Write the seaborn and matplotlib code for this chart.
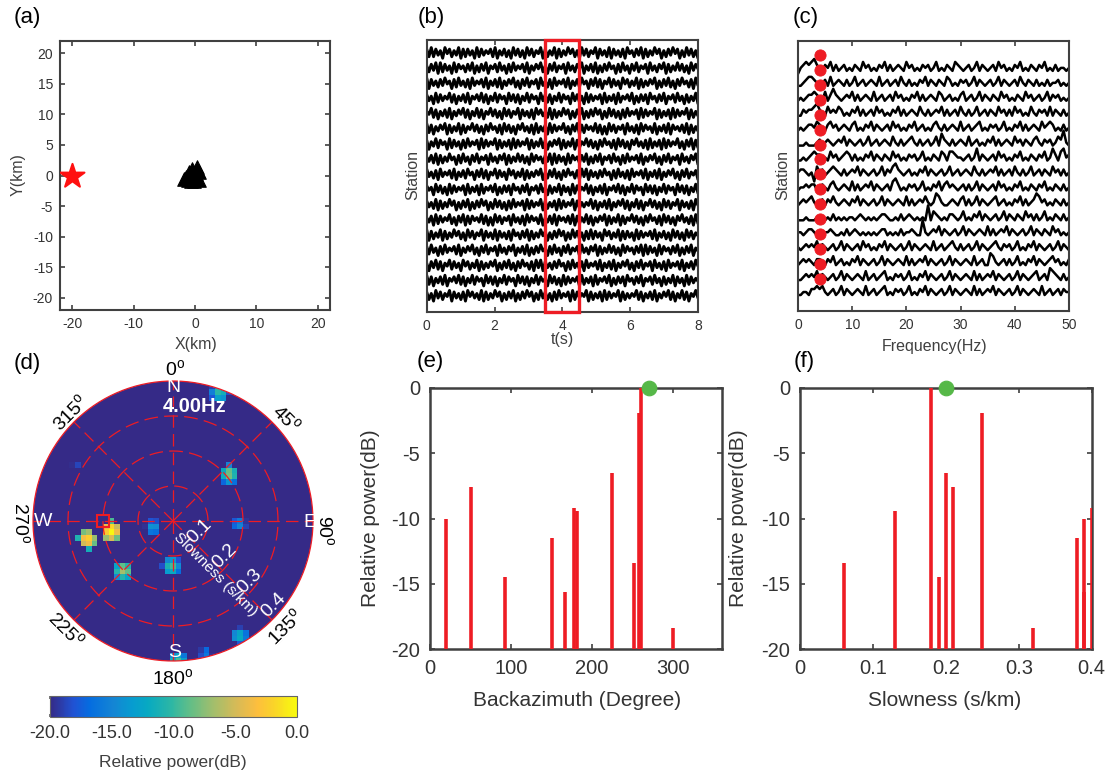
import numpy as np
import pandas as pd
import matplotlib
matplotlib.use("Agg")
import matplotlib.pyplot as plt
import seaborn as sns
from matplotlib.colors import LinearSegmentedColormap
from matplotlib.patches import Circle, Rectangle

# ---------------- data ----------------
source_x = [-20.0]
source_y = [0.0]
sta_x = [-1.8, -1.4, -1.1, -0.8, -0.5, -0.3, 0.0, 0.3, 0.5, 0.7, -0.9, -0.2, 0.2, 0.6, -0.6, 0.1]
sta_y = [-0.6, -0.3, -0.8, 0.1, 1.1, -0.5, 0.6, 1.4, 0.8, 0.5, 0.5, -0.9, -0.2, -0.8, -0.9, 0.2]

wave_t_end = 8.0
window_t = [3.5, 4.5]
wave_codes = [
    "8393847295 8374928384 7293847583 9274837294 8372948375 9283749283 7495837294 8375928473 9284738295 7384928374 9582738495 8273948372",
    "7384929384 7293857384 9273849275 8394728394 7583927485 9372849375 8294738592 7483927384 9572839472 8493758294 7385928374 9483729485",
    "9284738495 7283947382 9475839274 8392748593 7284937582 9473829475 8392748395 7284938275 9384729583 7492837485 9273849372 8495738294",
    "8472938475 9382748392 7584938274 9385729483 8274938572 9483827493 8572948372 9384758293 7482937584 9273848295 7384927583 9472837492",
    "7593827483 9274859382 7493827594 8372948375 9284738295 8473928374 9582738492 7384958273 9483728394 7582938475 9283748293 8475928374",
    "9382748592 8374928375 9483728495 7382948372 8594738293 7482938475 9372849283 8574938272 9483758294 7382948573 9274839285 7483928374",
    "8274938572 9384728394 7582938475 9283748293 8475928374 9382748592 8374928375 9483728495 7382948372 8594738293 7482938475 9372849283",
    "7483928374 9572839472 8493758294 7385928374 9483729485 7384929384 7293857384 9273849275 8394728394 7583927485 9372849375 8294738592",
    "9473829475 8392748395 7284938275 9384729583 7492837485 9273849372 8495738294 9284738495 7283947382 9475839274 8392748593 7284937582",
    "8572948372 9384758293 7482937584 9273848295 7384927583 9472837492 8472938475 9382748392 7584938274 9385729483 8274938572 9483827493",
    "8473928374 9582738492 7384958273 9483728394 7582938475 9283748293 8475928374 7593827483 9274859382 7493827594 8372948375 9284738295",
    "7482938475 9372849283 8574938272 9483758294 7382948573 9274839285 7483928374 9382748592 8374928375 9483728495 7382948372 8594738293",
    "9283749283 7495837294 8375928473 9284738295 7384928374 9582738495 8273948372 8393847295 8374928384 7293847583 9274837294 8372948375",
    "8394728394 7583927485 9372849375 8294738592 7483927384 9572839472 8493758294 7385928374 9483729485 7384929384 7293857384 9273849275",
    "7284938275 9384729583 7492837485 9273849372 8495738294 9284738495 7283947382 9475839274 8392748593 7284937582 9473829475 8392748395",
    "9382748392 7584938274 9385729483 8274938572 9483827493 8572948372 9384758293 7482937584 9273848295 7384927583 9472837492 8472938475",
    "8372948375 9284738295 8473928374 9582738492 7384958273 9483728394 7582938475 9283748293 8475928374 7593827483 9274859382 7493827594",
]

spec_f_end = 50.0
peak_freq = 4.0
spec_codes = [
    "13454 56432 43524 23423 24325 34232 43524 23432 53423 24342 35232 43254 32342 35243 23425 34232 43523 24324 35232 42332 3",
    "22345 54323 42523 43242 35234 23432 52342 34253 24232 43524 32432 54232 43423 52432 34235 24323 42532 43242 32423 34232 3",
    "23234 45432 52464 32343 52423 43252 34234 25342 32435 24234 32542 34232 45234 23524 32432 53423 24325 34234 23524 34232 3",
    "22434 45643 25343 54232 43524 23425 34232 43524 23432 53242 34352 42342 53242 35234 24325 34242 53423 25324 34252 43242 3",
    "23234 43543 24534 23432 45232 43524 32342 53423 24352 34232 45324 23432 52342 34523 24342 35232 43524 23432 53454 23242 3",
    "22232 22342 34323 43524 32342 35234 23432 53242 34532 42342 35264 32423 43252 34232 43524 23432 53424 32453 24342 35473 2",
    "22323 45442 32534 23454 24232 43524 32432 53423 24342 35232 43254 25543 32342 36243 23425 34232 43523 24324 35236 42563 4",
    "34432 30534 23454 32423 43524 32342 35243 56432 34232 43524 32342 35234 23432 53242 34352 42342 53242 35234 24325 34242 3",
    "23343 44234 32453 23432 52423 43524 32342 56423 24342 35232 43524 53432 34242 35243 23425 34232 43523 24324 35232 43242 3",
    "23434 53234 24353 23432 43524 32342 35243 23432 52423 43532 36532 23432 45242 35243 23452 34232 43524 23465 34232 43242 3",
    "22232 22332 23242 32323 32343 23232 34432 23242 34323 23272 54323 24432 35232 43524 32342 35243 24325 34242 35232 43242 3",
    "33234 43232 33432 23242 34323 23232 34423 23242 33432 27323 43524 32342 35243 23432 52423 43524 32342 35243 24325 34232 3",
    "32343 43524 32342 35243 23425 34232 43524 32342 35243 23432 52342 34532 42342 35243 23453 24342 35232 43524 32342 35243 2",
    "23434 32443 24352 34232 43524 32342 35243 23432 52423 43524 32342 35243 23432 52342 26532 34242 35232 43524 32345 34232 4",
    "22343 43524 32342 35243 23432 52342 34523 24342 35232 43524 32342 35243 23432 52423 43524 32342 35243 23452 34265 43242 3",
    "22332 44545 32342 35243 23432 52342 34523 24342 35232 43524 32342 35243 23432 52423 43524 32342 35243 23432 52342 34243 3",
]

peak_baz = [20, 50, 93, 150, 166, 178, 182, 225, 252, 258, 261, 300]
peak_slow = [0.39, 0.21, 0.19, 0.38, 0.39, 0.40, 0.13, 0.20, 0.06, 0.25, 0.18, 0.32]
peak_power = [-10.0, -7.6, -14.5, -11.5, -15.6, -9.2, -9.4, -6.5, -13.4, -1.9, 0.0, -18.4]
true_baz = 270.0
true_slow = 0.20
freq_text = "4.00Hz"
cbar_ticks = [-20, -15, -10, -5, 0]
deg_labels = [0, 45, 90, 135, 180, 225, 270, 315]
slow_rings = [0.1, 0.2, 0.3, 0.4]

# ---------------- style ----------------
sns.set_theme(style="ticks")
plt.rcParams["font.family"] = ["Liberation Sans", "DejaVu Sans"]
plt.rcParams["mathtext.fontset"] = "custom"
plt.rcParams["mathtext.rm"] = "Liberation Sans"
plt.rcParams["mathtext.it"] = "Liberation Sans:italic"
plt.rcParams["axes.unicode_minus"] = False

W, H = 1110, 775
fig = plt.figure(figsize=(W / 100, H / 100), dpi=100)
SP = "#404040"
TXT = "#333333"
RED = "#ee1c24"


def ax_px(l, t, r, b, **kw):
    return fig.add_axes([l / W, (H - b) / H, (r - l) / W, (b - t) / H], **kw)


def fig_text(x, y, s, **kw):
    fig.text(x / W, 1 - y / H, s, ha="center", va="center", **kw)


def style_box(ax, lsize, lw=1.5, pad=5):
    for sp in ax.spines.values():
        sp.set_color(SP)
        sp.set_linewidth(lw)
        sp.set_visible(True)
    ax.tick_params(direction="in", top=True, right=True, length=3.5, width=1.2,
                   color=SP, labelsize=lsize, labelcolor=TXT, pad=pad)


# ---------------- (a) ----------------
axa = ax_px(60, 41, 330, 310)
sns.scatterplot(x=sta_x, y=sta_y, marker="^", s=95, color="black", edgecolor="black", ax=axa, zorder=3)
sns.scatterplot(x=source_x, y=source_y, marker="*", s=330, color="#ff1010", edgecolor="#ff1010", ax=axa, zorder=3)
axa.set_xlim(-22, 22)
axa.set_ylim(-22, 22)
axa.set_xticks([-20, -10, 0, 10, 20])
axa.set_yticks(np.arange(-20, 21, 5))
style_box(axa, 10)

# ---------------- (b) ----------------
axb = ax_px(426.7, 40, 698, 311.7)
rows = []
nb = len(wave_codes)
for k, code in enumerate(wave_codes):
    d = np.array([int(c) for c in code.replace(" ", "")], dtype=float)
    t = np.linspace(0, wave_t_end, len(d))
    off = nb - 1 - k
    for ti, di in zip(t, d):
        rows.append((k, ti, off + (di - 5.5) * 0.1))
dfb = pd.DataFrame(rows, columns=["trace", "t", "y"])
sns.lineplot(data=dfb, x="t", y="y", units="trace", estimator=None, sort=False,
             color="black", lw=2.1, ax=axb, legend=False)
axb.add_patch(Rectangle((window_t[0], -1.05), window_t[1] - window_t[0], 16.85 + 1.05,
                        fill=False, edgecolor=RED, lw=2.4, clip_on=False, zorder=5))
axb.set_xlim(0, wave_t_end)
axb.set_ylim(-1.05, 16.85)
axb.set_xticks([0, 2, 4, 6, 8])
axb.set_yticks([])
axb.set_xlabel("")
axb.set_ylabel("")
style_box(axb, 10)

# ---------------- (c) ----------------
axc = ax_px(798, 41, 1069, 311)
rows = []
nc = len(spec_codes)
dot_y = []
for k, code in enumerate(spec_codes):
    d = np.array([int(c) for c in code.replace(" ", "")], dtype=float)
    f = np.linspace(0, spec_f_end, len(d))
    off = nc - 1 - k
    for fi, di in zip(f, d):
        rows.append((k, fi, off + (di - 3) * 0.2))
    dot_y.append(off + 0.87)
dfc = pd.DataFrame(rows, columns=["trace", "f", "y"])
sns.lineplot(data=dfc, x="f", y="y", units="trace", estimator=None, sort=False,
             color="black", lw=1.8, ax=axc, legend=False)
sns.scatterplot(x=[peak_freq] * nc, y=dot_y, s=65, color=RED, edgecolor=RED, ax=axc, zorder=4)
axc.set_xlim(0, spec_f_end)
axc.set_ylim(-1.27, 16.8)
axc.set_xticks([0, 10, 20, 30, 40, 50])
axc.set_yticks([])
axc.set_xlabel("")
axc.set_ylabel("")
style_box(axc, 10)

# ---------------- (d) ----------------
parula = LinearSegmentedColormap.from_list("parula", [
    (0.0, (0.2081, 0.1663, 0.5292)), (6 / 63, (0.1253, 0.3242, 0.8303)),
    (10 / 63, (0.0165, 0.4266, 0.8786)), (16 / 63, (0.0793, 0.5200, 0.8312)),
    (21 / 63, (0.0265, 0.6137, 0.8135)), (25 / 63, (0.0267, 0.6642, 0.7607)),
    (31 / 63, (0.1801, 0.7177, 0.6424)), (36 / 63, (0.3953, 0.7459, 0.5244)),
    (42 / 63, (0.6473, 0.7456, 0.4188)), (48 / 63, (0.8507, 0.7299, 0.3360)),
    (53 / 63, (0.9939, 0.7455, 0.2403)), (57 / 63, (0.9788, 0.8271, 0.1633)),
    (1.0, (0.9763, 0.9831, 0.0538))])

axd = ax_px(33, 381, 313, 661)
step = 0.016
edges = np.arange(-0.424, 0.424 + step / 2, step)
cen = (edges[:-1] + edges[1:]) / 2
GX, GY = np.meshgrid(cen, cen)
Z = np.full(GX.shape, -20.0)
for b, s, p in zip(peak_baz, peak_slow, peak_power):
    px, py = s * np.sin(np.radians(b)), s * np.cos(np.radians(b))
    d2 = ((GX - px) ** 2 + (GY - py) ** 2) / step ** 2
    v = np.where(d2 <= 3.2, p - 3.0 * d2, -20.0)
    Z = np.maximum(Z, v)
Z = np.clip(Z, -20, 0)
mesh = axd.pcolormesh(edges, edges, Z, cmap=parula, vmin=-20, vmax=0, shading="flat")
clip = Circle((0, 0), 0.4, transform=axd.transData)
mesh.set_clip_path(clip)
axd.set_xlim(-0.4, 0.4)
axd.set_ylim(-0.4, 0.4)
axd.set_aspect("equal")
axd.axis("off")
th = np.linspace(0, 2 * np.pi, 400)
for r in slow_rings[:-1]:
    axd.plot(r * np.cos(th), r * np.sin(th), color=RED, lw=0.9, dashes=(11, 5), zorder=3)
axd.plot(0.4 * np.cos(th), 0.4 * np.sin(th), color=RED, lw=0.9, zorder=3, clip_on=False)
for a in deg_labels:
    ar = np.radians(a)
    axd.plot([0, 0.4 * np.sin(ar)], [0, 0.4 * np.cos(ar)], color=RED, lw=0.9, dashes=(10, 5), zorder=3)
axd.plot([true_slow * np.sin(np.radians(true_baz))], [true_slow * np.cos(np.radians(true_baz))],
         marker="s", ms=8, mfc="none", mec=RED, mew=1.5, zorder=6)

wk = dict(color="white", ha="center", va="center", fontsize=14, zorder=7)
axd.text(0.0, 0.381, "N", **wk)
axd.text(0.005, -0.377, "S", **wk)
axd.text(-0.371, -0.002, "W", **wk)
axd.text(0.39, -0.005, "E", **wk)
axd.text(0.063, 0.327, freq_text, color="white", ha="center", va="center", fontsize=14.5,
         fontweight="bold", zorder=7)
for r in slow_rings:
    axd.text(r * 0.7071 + 0.006, -r * 0.7071 + 0.041, f"{r:.1f}", rotation=45, **wk)
axd.text(0.12, -0.154, "Slowness (s/km)", color="white", ha="center", va="center",
         fontsize=11, rotation=-45, zorder=7)
deg_pos = {0: (0.006, 0.434, 0), 45: (0.324, 0.293, -45), 90: (0.435, -0.026, -90),
           135: (0.32, -0.302, 45), 180: (0.001, -0.449, 0), 225: (-0.305, -0.311, -45),
           270: (-0.433, -0.0066, -90), 315: (-0.294, 0.308, 45)}
for a in deg_labels:
    x, y, rot = deg_pos[a]
    axd.text(x, y, r"$\mathregular{%d^o}$" % a, rotation=rot, ha="center", va="center",
             fontsize=14, color="black", rotation_mode="anchor")

cax = ax_px(50, 696, 297, 717)
cb = fig.colorbar(mesh, cax=cax, orientation="horizontal", ticks=cbar_ticks, format="%.1f")
cb.outline.set_edgecolor("#666666")
cb.outline.set_linewidth(0.8)
cax.tick_params(direction="in", top=True, bottom=True, length=2.5, color="#666666",
                labelsize=13, labelcolor=TXT, pad=6)

# ---------------- (e) & (f) ----------------
axe = ax_px(430, 387.7, 721.7, 649.3)
axe.vlines(peak_baz, -20, peak_power, color=RED, lw=2.6, zorder=3)
sns.scatterplot(x=[true_baz], y=[0], s=110, color="#56b848", edgecolor="#56b848", ax=axe,
                zorder=6, clip_on=False)
axe.set_xlim(0, 360)
axe.set_ylim(-20, 0)
axe.set_xticks([0, 100, 200, 300])
axe.set_yticks([-20, -15, -10, -5, 0])
style_box(axe, 14.5, lw=1.8, pad=7)

axf = ax_px(800, 387.7, 1091.7, 649.3)
axf.vlines(peak_slow, -20, peak_power, color=RED, lw=2.6, zorder=3)
sns.scatterplot(x=[true_slow], y=[0], s=110, color="#56b848", edgecolor="#56b848", ax=axf,
                zorder=6, clip_on=False)
axf.set_xlim(0, 0.4)
axf.set_ylim(-20, 0)
axf.set_xticks([0, 0.1, 0.2, 0.3, 0.4])
axf.set_xticklabels(["0", "0.1", "0.2", "0.3", "0.4"])
axf.set_yticks([-20, -15, -10, -5, 0])
style_box(axf, 14.5, lw=1.8, pad=7)

# ---------------- labels ----------------
for s, x, y in [("(a)", 27.5, 17), ("(b)", 431, 17), ("(c)", 806, 17),
                ("(d)", 27.5, 363), ("(e)", 430.5, 362), ("(f)", 804, 362)]:
    fig_text(x, y, s, fontsize=16, color="black")
lk = dict(fontsize=11.5, color=SP)
fig_text(196, 344, "X(km)", **lk)
fig_text(18, 175, "Y(km)", rotation=90, **lk)
fig_text(562.7, 339, "t(s)", **lk)
fig_text(412.7, 175, "Station", rotation=90, **lk)
fig_text(935, 347, "Frequency(Hz)", **lk)
fig_text(783, 175, "Station", rotation=90, **lk)
bk = dict(fontsize=15, color=TXT)
fig_text(576.7, 700, "Backazimuth (Degree)", **bk)
fig_text(370, 518, "Relative power(dB)", rotation=90, **bk)
fig_text(945, 700, "Slowness (s/km)", **bk)
fig_text(738, 518, "Relative power(dB)", rotation=90, **bk)
fig_text(173, 762, "Relative power(dB)", fontsize=12.5, color=SP)

fig.savefig("out.png", dpi=100)
